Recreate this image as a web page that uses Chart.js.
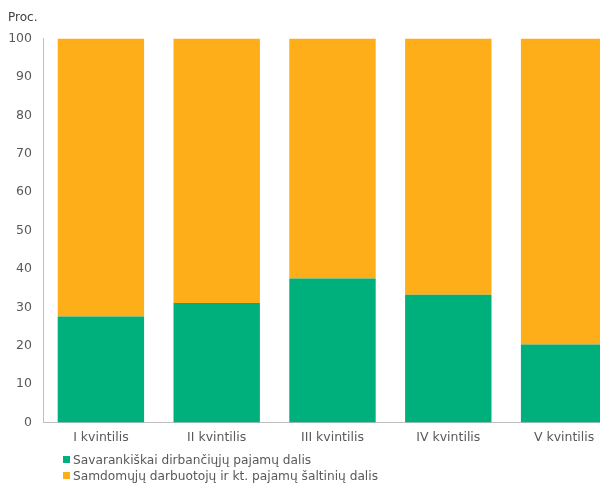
<!DOCTYPE html>
<html>
<head>
<meta charset="utf-8">
<script src="https://cdn.jsdelivr.net/npm/chart.js@4"></script>
<style>
  body { margin: 0; overflow: hidden; background: #fff; font-family: "DejaVu Sans", Verdana, sans-serif; }
  #wrap { position: relative; width: 622px; height: 486px; }
  #unit { position: absolute; left: 8px; top: 10px; font-size: 12px; color: #404040; }
  #legend { position: absolute; left: 63px; top: 453px; font-size: 12.2px; color: #595959; line-height: 15.5px; }
  #legend .box { display: inline-block; width: 7px; height: 7px; margin-right: 3px; vertical-align: 1px; }
</style>
</head>
<body>
<div id="wrap">
  <canvas id="myChart" width="622" height="486"></canvas>
  <div id="unit">Proc.</div>
  <div id="legend"></div>
</div>
<script>
const categories = ["I kvintilis", "II kvintilis", "III kvintilis", "IV kvintilis", "V kvintilis"];
const seriesNames = ["Savarankiškai dirbančiųjų pajamų dalis", "Samdomųjų darbuotojų ir kt. pajamų šaltinių dalis"];
const seriesColors = ["#00b07c", "#fdae19"];
const selfEmployed = [27.6, 31.1, 37.5, 33.3, 20.3];
const employees = [72.4, 68.9, 62.5, 66.7, 79.7];

const tickFont = { family: "'DejaVu Sans', Verdana, sans-serif", size: 12.5 };

// legend as plain html rows
let legend = document.querySelector("#legend");
seriesNames.forEach((name, i) => {
  let row = document.createElement("div");
  row.innerHTML = '<span class="box" style="background:' + seriesColors[i] + '"></span>' + name;
  legend.appendChild(row);
});

var ctx = document.getElementById("myChart").getContext("2d");
var myChart = new Chart(ctx, {
  type: "bar",
  data: {
    labels: categories,
    datasets: [
      {
        label: seriesNames[0],
        data: selfEmployed,
        backgroundColor: seriesColors[0],
        barPercentage: 0.746,
        categoryPercentage: 1,
      },
      {
        label: seriesNames[1],
        data: employees,
        backgroundColor: seriesColors[1],
        barPercentage: 0.746,
        categoryPercentage: 1,
      },
    ],
  },
  options: {
    responsive: false,
    animation: false,
    layout: { padding: { top: 38.5, bottom: 33.5, left: 0, right: 0 } },
    plugins: {
      legend: { display: false },
      tooltip: { enabled: false },
    },
    scales: {
      x: {
        stacked: true,
        grid: { display: false, drawTicks: false },
        border: { display: true, color: "#bfbfbf", width: 1 },
        ticks: { color: "#595959", font: tickFont, padding: 8, maxRotation: 0 },
        afterFit: function (scale) {
          scale.height = 30;
        },
      },
      y: {
        stacked: true,
        min: 0,
        max: 100,
        grid: { display: false, drawTicks: false },
        border: { display: true, color: "#bfbfbf", width: 1 },
        ticks: { stepSize: 10, color: "#595959", font: tickFont, padding: 11 },
        afterFit: function (scale) {
          scale.width = 43;
        },
      },
    },
  },
});
</script>
</body>
</html>
